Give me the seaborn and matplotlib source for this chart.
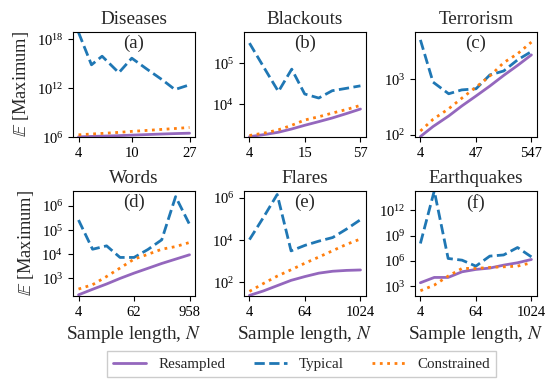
import numpy as np
import pandas as pd
import seaborn as sns
import matplotlib
matplotlib.use("Agg")
import matplotlib.pyplot as plt
from matplotlib.ticker import NullLocator

# ---------------- data (stored as log10) ----------------
series_names = ["Resampled", "Typical", "Constrained"]
titles = ["Diseases", "Blackouts", "Terrorism", "Words", "Flares", "Earthquakes"]
panel_letters = ["(a)", "(b)", "(c)", "(d)", "(e)", "(f)"]

diseases_N = [4, 5, 6, 8, 10, 13, 17, 21, 27]
diseases_resampled = [6.03, 6.08, 6.12, 6.18, 6.24, 6.31, 6.38, 6.43, 6.48]
diseases_typical = [18.81, 14.85, 15.9, 13.88, 15.66, 14.31, 12.98, 11.82, 12.4]
diseases_constrained = [6.28, 6.38, 6.45, 6.58, 6.7, 6.82, 6.95, 7.05, 7.18]

blackouts_N = [4, 6, 8, 11, 15, 21, 29, 41, 57]
blackouts_resampled = [3.2, 3.26, 3.31, 3.39, 3.48, 3.57, 3.66, 3.77, 3.88]
blackouts_typical = [5.5, 4.8, 4.31, 4.86, 4.25, 4.15, 4.33, 4.39, 4.45]
blackouts_constrained = [3.23, 3.3, 3.37, 3.48, 3.61, 3.69, 3.78, 3.87, 3.97]

terrorism_N = [4, 7, 14, 25, 47, 87, 160, 296, 547]
terrorism_resampled = [1.97, 2.15, 2.34, 2.52, 2.7, 2.88, 3.07, 3.25, 3.44]
terrorism_typical = [3.71, 2.95, 2.74, 2.81, 2.83, 3.08, 3.15, 3.35, 3.5]
terrorism_constrained = [2.07, 2.28, 2.47, 2.66, 2.86, 3.06, 3.3, 3.46, 3.67]

words_N = [4, 8, 16, 31, 62, 123, 243, 482, 958]
words_resampled = [2.32, 2.55, 2.77, 3.0, 3.22, 3.42, 3.62, 3.8, 3.98]
words_typical = [5.42, 4.21, 4.35, 3.87, 3.87, 4.2, 4.6, 6.39, 5.24]
words_constrained = [2.56, 2.74, 3.08, 3.43, 3.8, 4.0, 4.21, 4.32, 4.49]

flares_N = [4, 8, 16, 32, 64, 128, 256, 512, 1024]
flares_resampled = [1.39, 1.6, 1.85, 2.1, 2.28, 2.44, 2.53, 2.57, 2.59]
flares_typical = [4.02, 5.06, 6.15, 3.49, 3.75, 3.95, 4.12, 4.52, 4.96]
flares_constrained = [1.58, 1.95, 2.3, 2.6, 2.91, 3.2, 3.5, 3.8, 4.05]

earthquakes_N = [4, 8, 16, 32, 64, 128, 256, 512, 1024]
earthquakes_resampled = [3.4, 4.03, 4.03, 4.7, 4.98, 5.14, 5.49, 5.77, 6.16]
earthquakes_typical = [8.06, 14.3, 6.28, 6.08, 5.37, 6.56, 6.7, 7.58, 6.47]
earthquakes_constrained = [2.45, 3.12, 4.19, 5.1, 5.1, 5.22, 5.29, 5.37, 5.77]

x_ticks = [[4, 10, 27], [4, 15, 57], [4, 47, 547], [4, 62, 958], [4, 64, 1024], [4, 64, 1024]]
y_tick_exps = [[6, 12, 18], [4, 5], [2, 3], [3, 4, 5, 6], [2, 4, 6], [3, 6, 9, 12]]
y_lim_exps = [(6.0, 18.85), (3.19, 5.77), (1.96, 3.85), (2.27, 6.62), (1.36, 6.31), (1.82, 14.28)]

panels = [
    (diseases_N, diseases_resampled, diseases_typical, diseases_constrained),
    (blackouts_N, blackouts_resampled, blackouts_typical, blackouts_constrained),
    (terrorism_N, terrorism_resampled, terrorism_typical, terrorism_constrained),
    (words_N, words_resampled, words_typical, words_constrained),
    (flares_N, flares_resampled, flares_typical, flares_constrained),
    (earthquakes_N, earthquakes_resampled, earthquakes_typical, earthquakes_constrained),
]

# ---------------- style ----------------
sns.set_style("ticks")
plt.rcParams["font.family"] = ["Liberation Serif", "DejaVu Serif"]
plt.rcParams["mathtext.fontset"] = "stix"
plt.rcParams["axes.edgecolor"] = "black"
plt.rcParams["xtick.color"] = "black"
plt.rcParams["ytick.color"] = "black"

palette = {"Resampled": "#9467bd", "Typical": "#1f77b4", "Constrained": "#ff7f0e"}
dashes = {"Resampled": "", "Typical": (3.7, 1.6), "Constrained": (1, 1.65)}

fig, axes = plt.subplots(2, 3, figsize=(5.57, 3.87), dpi=100)
fig.subplots_adjust(left=0.131, right=0.964, top=0.917, bottom=0.235, wspace=0.40, hspace=0.514)

for i, ax in enumerate(axes.flat):
    N, res, typ, con = panels[i]
    df = pd.DataFrame({
        "N": list(N) * 3,
        "value": list(10.0 ** np.array(res)) + list(10.0 ** np.array(typ)) + list(10.0 ** np.array(con)),
        "series": [series_names[0]] * len(N) + [series_names[1]] * len(N) + [series_names[2]] * len(N),
    })
    sns.lineplot(data=df, x="N", y="value", hue="series", style="series",
                 hue_order=series_names, style_order=series_names,
                 palette=palette, dashes=dashes, linewidth=2, errorbar=None,
                 legend=False, ax=ax)
    ax.set_xscale("log")
    ax.set_yscale("log")
    ax.set_xticks(x_ticks[i], labels=[str(t) for t in x_ticks[i]])
    ax.xaxis.set_minor_locator(NullLocator())
    ax.set_yticks([10.0 ** e for e in y_tick_exps[i]])
    ax.yaxis.set_minor_locator(NullLocator())
    lo, hi = y_lim_exps[i]
    ax.set_ylim(10.0 ** lo, 10.0 ** hi)
    ax.tick_params(labelsize=10.5, length=3.5, width=0.8)
    for s in ax.spines.values():
        s.set_visible(True)
        s.set_linewidth(0.8)
    ax.set_title(titles[i], fontsize=13.8)
    ax.text(0.5, 0.975, panel_letters[i], transform=ax.transAxes,
            ha="center", va="top", fontsize=13.5)
    ax.set_xlabel("Sample length, $N$" if i >= 3 else "", fontsize=13.8)
    ax.set_ylabel(r"$\mathbb{E}$ [Maximum]" if i % 3 == 0 else "", fontsize=13.2)

handles = axes.flat[0].get_lines()[:3]
fig.legend(handles, series_names, loc="center", bbox_to_anchor=(0.541, 0.0594),
           ncol=3, fontsize=10.8, frameon=True, fancybox=False, edgecolor="0.8",
           framealpha=1, columnspacing=1.9, handlelength=2.2)

fig.savefig("out.png", dpi=100)
